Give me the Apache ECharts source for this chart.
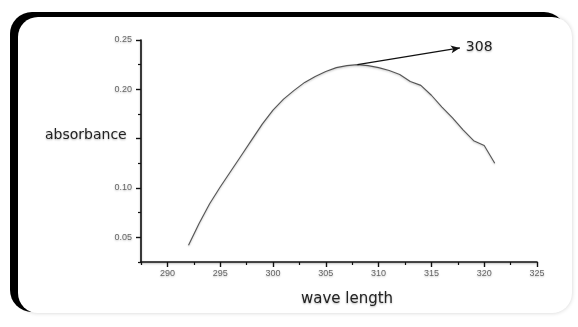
<!DOCTYPE html>
<html>
<head>
<meta charset="utf-8">
<script src="https://cdn.jsdelivr.net/npm/echarts@6/dist/echarts.min.js"></script>
<style>
html,body{margin:0;padding:0;background:#fff;}
#c{width:578px;height:327px;}
</style>
</head>
<body>
<div id="c"></div>
<script>
// Data
const wavelengths = [292,293,294,295,296,297,298,299,300,301,302,303,304,305,306,307,308,309,310,311,312,313,314,315,316,317,318,319,320,321];
const absorbance  = [0.042,0.064,0.084,0.101,0.117,0.133,0.149,0.165,0.179,0.190,0.199,0.207,0.213,0.218,0.222,0.224,0.225,0.224,0.222,0.219,0.215,0.208,0.204,0.194,0.182,0.171,0.159,0.148,0.143,0.125];
const xMajorTicks = [290,295,300,305,310,315,320,325];
const xMinorTicks = [287.5,292.5,297.5,302.5,307.5,312.5,317.5,322.5];
const yMajorTicks = [0.05,0.10,0.15,0.20,0.25];
const yLabelTicks = [0.05,0.10,0.20,0.25];
const yMinorTicks = [0.025,0.075,0.125,0.175,0.225];
const peakPoint = [308,0.225];
const peakLabel = '308';
const arrowEnd = [317.7,0.242];

const labelStyle = {color:'#666', fontSize:9, fontFamily:'Liberation Sans, Arial, sans-serif',
  textShadowColor:'rgba(0,0,0,0.25)', textShadowBlur:2, textShadowOffsetY:1};
const axisLineStyle = {color:'#111', width:1.6, shadowColor:'rgba(0,0,0,0.3)', shadowBlur:2, shadowOffsetY:1};

const chart = echarts.init(document.getElementById('c'), null, {renderer:'canvas'});
chart.setOption({
  animation:false,
  backgroundColor:'#fff',
  graphic:[
    {type:'rect', z:-20, silent:true, shape:{x:10,y:12,width:556,height:300,r:22},
     style:{fill:'#000'}},
    {type:'rect', z:-19, silent:true, shape:{x:18,y:17,width:554,height:296,r:20},
     style:{fill:'#fff', shadowColor:'rgba(0,0,0,0.18)', shadowBlur:4, shadowOffsetX:0, shadowOffsetY:0}},
    {type:'text', z:10, left:45, top:128, silent:true,
     style:{text:'absorbance', fill:'#222', fontSize:14, fontFamily:'DejaVu Sans, sans-serif',
       textShadowColor:'rgba(0,0,0,0.3)', textShadowBlur:2, textShadowOffsetY:1}}
  ],
  grid:{left:141, right:41, top:40, bottom:65, containLabel:false},
  xAxis:[{
    type:'value', min:287.5, max:325,
    name:'wave length', nameLocation:'middle', nameGap:30,
    nameTextStyle:{color:'#222', fontSize:15, fontFamily:'DejaVu Sans, sans-serif', padding:[0,0,0,16],
      textShadowColor:'rgba(0,0,0,0.3)', textShadowBlur:2, textShadowOffsetY:1},
    axisLine:{show:true, onZero:false, lineStyle:axisLineStyle},
    axisTick:{show:true, length:5, customValues:xMajorTicks, lineStyle:{color:'#111', width:1.4}},
    axisLabel:{customValues:xMajorTicks, margin:7, ...labelStyle},
    splitLine:{show:false}
  },{
    type:'value', min:287.5, max:325, position:'bottom',
    axisLine:{show:false},
    axisTick:{show:true, length:3, customValues:xMinorTicks, lineStyle:{color:'#111', width:1.2}},
    axisLabel:{show:false}, splitLine:{show:false}
  }],
  yAxis:[{
    type:'value', min:0.025, max:0.25,
    axisLine:{show:true, onZero:false, lineStyle:axisLineStyle},
    axisTick:{show:true, length:5, customValues:yMajorTicks, lineStyle:{color:'#111', width:1.4}},
    axisLabel:{customValues:yLabelTicks, margin:9, formatter:v=>v.toFixed(2), ...labelStyle},
    splitLine:{show:false}
  },{
    type:'value', min:0.025, max:0.25, position:'left',
    axisLine:{show:false},
    axisTick:{show:true, length:3, customValues:yMinorTicks, lineStyle:{color:'#111', width:1.2}},
    axisLabel:{show:false}, splitLine:{show:false}
  }],
  series:[{
    type:'line',
    data:wavelengths.map((w,i)=>[w,absorbance[i]]),
    showSymbol:false, symbol:'none', smooth:false,
    lineStyle:{color:'#555', width:1.1, shadowColor:'rgba(0,0,0,0.25)', shadowBlur:2, shadowOffsetY:1},
    markLine:{
      silent:true, symbol:['none','arrow'], symbolSize:[6,9],
      lineStyle:{color:'#111', width:1.3, type:'solid'},
      label:{show:true, position:'end', distance:6, formatter:peakLabel, color:'#222', fontSize:14,
        fontFamily:'DejaVu Sans, sans-serif', textShadowColor:'rgba(0,0,0,0.3)', textShadowBlur:2, textShadowOffsetY:1},
      data:[[{coord:peakPoint},{coord:arrowEnd}]]
    }
  }]
});
</script>
</body>
</html>
